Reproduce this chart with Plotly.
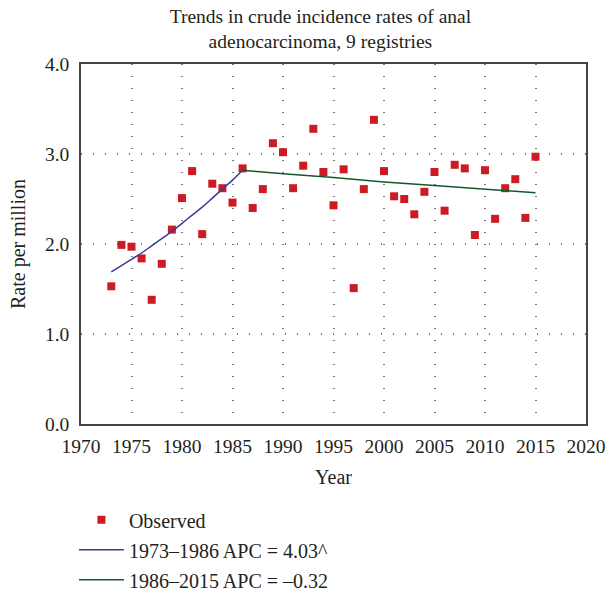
import plotly.graph_objects as go

years = list(range(1973, 2016))
observed = [1.53, 1.99, 1.97, 1.84, 1.38, 1.78, 2.16, 2.51, 2.81, 2.11,
            2.67, 2.62, 2.46, 2.84, 2.40, 2.61, 3.12, 3.02, 2.62, 2.87,
            3.28, 2.80, 2.43, 2.83, 1.51, 2.61, 3.38, 2.81, 2.53, 2.50,
            2.33, 2.58, 2.80, 2.37, 2.88, 2.84, 2.10, 2.82, 2.28, 2.62,
            2.72, 2.29, 2.97]

seg1_years = list(range(1973, 1987))
seg1_fit = [1.69, 1.76, 1.83, 1.90, 1.98, 2.06, 2.14, 2.23, 2.32, 2.41,
            2.51, 2.61, 2.71, 2.82]
seg2_years = [1986, 1990, 1995, 2000, 2005, 2010, 2015]
seg2_fit = [2.82, 2.78, 2.74, 2.69, 2.65, 2.61, 2.57]

names = ["Observed", "1973\u20131986 APC = 4.03^", "1986\u20132015 APC = \u20130.32"]
xticks = list(range(1970, 2021, 5))
yticks = [0.0, 1.0, 2.0, 3.0, 4.0]

FONT = "Liberation Serif"
TXT = "#231f20"

fig = go.Figure()
fig.add_trace(go.Scatter(x=years, y=observed, mode="markers", name=names[0],
                         marker=dict(symbol="square", size=8, color="#cc1b22"),
                         legendgroup="a"))
fig.add_trace(go.Scatter(x=seg1_years, y=seg1_fit, mode="lines", name=names[1],
                         line=dict(color="#3d3a9e", width=1.5, shape="spline"),
                         legendgroup="b"))
fig.add_trace(go.Scatter(x=seg2_years, y=seg2_fit, mode="lines", name=names[2],
                         line=dict(color="#14582a", width=1.5),
                         legendgroup="c"))

axis_common = dict(showline=True, linecolor="#444", linewidth=1.5, mirror=True,
                   ticks="",
                   showgrid=True, gridcolor="#777", gridwidth=1.5,
                   griddash="1px,11px", zeroline=False, automargin=False,
                   tickfont=dict(family=FONT, size=19.5, color=TXT))

fig.update_xaxes(range=[1970, 2020], tickvals=xticks, ticklabelstandoff=4,
                 title=dict(text="Year", font=dict(family=FONT, size=20, color=TXT), standoff=14),
                 **axis_common)
fig.update_yaxes(range=[0, 4], tickvals=yticks, tickformat=".1f", ticklabelstandoff=6,
                 title=dict(text="Rate per million", font=dict(family=FONT, size=20, color=TXT), standoff=14),
                 **axis_common)

fig.update_layout(
    width=608, height=595,
    margin=dict(l=81, r=22, t=64, b=171, autoexpand=False),
    paper_bgcolor="white", plot_bgcolor="white",
    font=dict(family=FONT, size=20, color=TXT),
    title=dict(text="Trends in crude incidence rates of anal<br>adenocarcinoma, 9 registries",
               x=0.527, xanchor="center", yref="container", y=0.962, yanchor="top",
               font=dict(family=FONT, size=19.5, color=TXT)),
    showlegend=True,
    legend=dict(x=-0.014, xanchor="left", y=-0.212, yanchor="top",
                font=dict(family=FONT, size=20, color=TXT),
                tracegroupgap=1, itemwidth=45, bgcolor="rgba(0,0,0,0)"),
)

fig.write_html("out.html", config={"displayModeBar": False},
               post_script="document.body.style.margin='0';document.body.style.overflow='hidden';")
